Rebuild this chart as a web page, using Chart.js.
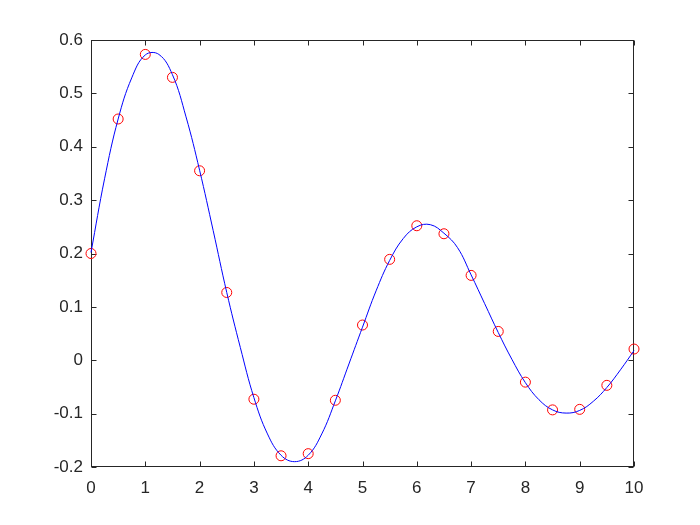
<!DOCTYPE html>
<html><head><meta charset="utf-8">
<script src="https://cdn.jsdelivr.net/npm/chart.js@4"></script>
<style>html,body{margin:0;padding:0;background:#fff}</style>
</head><body>
<canvas id="c" width="700" height="525" style="width:700px;height:525px;display:block"></canvas>
<script>
// Measured samples (red circles)
const sampleX = [0,0.5,1,1.5,2,2.5,3,3.5,4,4.5,5,5.5,6,6.5,7,7.5,8,8.5,9,9.5,10];
const sampleY = [0.200,0.452,0.573,0.530,0.355,0.127,-0.073,-0.179,-0.175,-0.075,0.066,0.189,0.252,0.237,0.159,0.054,-0.041,-0.093,-0.092,-0.047,0.021];
// Fitted curve (blue line)
const curveX = [0,0.25,0.5,0.75,1,1.25,1.5,1.75,2,2.25,2.5,2.75,3,3.25,3.5,3.75,4,4.25,4.5,4.75,5,5.25,5.5,5.75,6,6.25,6.5,6.75,7,7.25,7.5,7.75,8,8.25,8.5,8.75,9,9.25,9.5,9.75,10];
const curveY = [0.202,0.340,0.452,0.529,0.572,0.573,0.535,0.456,0.356,0.243,0.127,0.024,-0.070,-0.138,-0.178,-0.190,-0.178,-0.138,-0.076,-0.007,0.062,0.130,0.187,0.228,0.250,0.254,0.238,0.211,0.160,0.106,0.052,0.002,-0.042,-0.074,-0.093,-0.099,-0.094,-0.077,-0.051,-0.018,0.018];
// Ticks
const xTicks = [0,1,2,3,4,5,6,7,8,9,10];
const xTickLabels = ['0','1','2','3','4','5','6','7','8','9','10'];
const yTicks = [-0.2,-0.1,0,0.1,0.2,0.3,0.4,0.5,0.6];
const yTickLabels = ['-0.2','-0.1','0','0.1','0.2','0.3','0.4','0.5','0.6'];

const AX = '#262626';
const FONT = {family: 'Liberation Sans, Arial, sans-serif', size: 17};

const boxPlugin = {
  id: 'matlabBox',
  beforeDatasetsDraw(chart) {
    const {ctx, chartArea: a, scales} = chart;
    ctx.save();
    ctx.strokeStyle = AX;
    ctx.lineWidth = 1;
    const L = a.left + 0.5, R = a.right - 0.5, T = a.top + 0.5, B = a.bottom - 0.5;
    ctx.strokeRect(L, T, R - L, B - T);
    const tl = 5;
    ctx.beginPath();
    xTicks.forEach(v => {
      const px = Math.round(scales.x.getPixelForValue(v)) + 0.5;
      ctx.moveTo(px, B); ctx.lineTo(px, B - tl);
      ctx.moveTo(px, T); ctx.lineTo(px, T + tl);
    });
    yTicks.forEach(v => {
      const py = Math.round(scales.y.getPixelForValue(v)) + 0.5;
      ctx.moveTo(L, py); ctx.lineTo(L + tl, py);
      ctx.moveTo(R, py); ctx.lineTo(R - tl, py);
    });
    ctx.stroke();
    ctx.restore();
  }
};

new Chart(document.getElementById('c'), {
  type: 'scatter',
  data: {
    datasets: [
      {
        type: 'line',
        data: curveX.map((x, i) => ({x, y: curveY[i]})),
        borderColor: '#0000ff',
        borderWidth: 1,
        pointRadius: 0,
        fill: false,
        tension: 0.4,
        clip: false
      },
      {
        data: sampleX.map((x, i) => ({x, y: sampleY[i]})),
        borderColor: '#ff0000',
        backgroundColor: 'rgba(0,0,0,0)',
        borderWidth: 1,
        pointRadius: 5,
        pointStyle: 'circle',
        clip: false
      }
    ]
  },
  options: {
    responsive: false,
    animation: false,
    devicePixelRatio: 1,
    layout: {padding: {left: 0, top: 40, right: 66, bottom: 0}},
    plugins: {legend: {display: false}, tooltip: {enabled: false}},
    scales: {
      x: {
        type: 'linear', min: 0, max: 10,
        afterBuildTicks: s => { s.ticks = xTicks.map(v => ({value: v})); },
        afterFit: s => { s.height = 58; },
        grid: {display: false, drawTicks: false},
        border: {display: false},
        ticks: {font: FONT, color: AX, padding: 11, maxRotation: 0, autoSkip: false,
                callback: (v, i) => xTickLabels[i]}
      },
      y: {
        type: 'linear', min: -0.2, max: 0.6,
        afterBuildTicks: s => { s.ticks = yTicks.map(v => ({value: v})); },
        afterFit: s => { s.width = 91; },
        grid: {display: false, drawTicks: false},
        border: {display: false},
        ticks: {font: FONT, color: AX, padding: 8, autoSkip: false,
                callback: (v, i) => yTickLabels[i]}
      }
    }
  },
  plugins: [boxPlugin]
});
</script>
</body></html>
